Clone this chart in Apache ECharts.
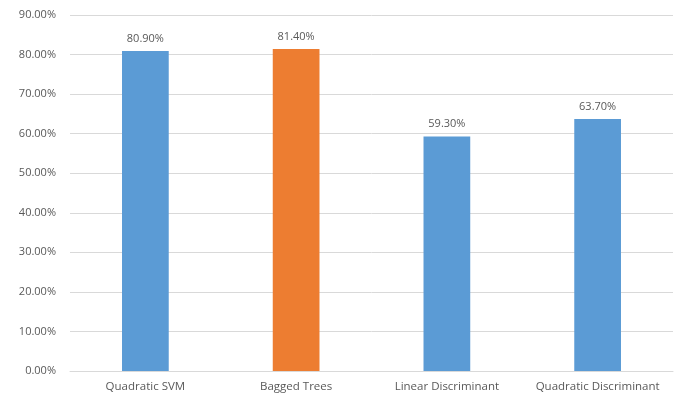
<!DOCTYPE html>
<html>
<head>
<meta charset="utf-8">
<script src="https://cdn.jsdelivr.net/npm/echarts@6/dist/echarts.min.js"></script>
<style>
html, body { margin: 0; padding: 0; background: #fff; }
#chart { width: 688px; height: 396px; }
</style>
</head>
<body>
<div id="chart"></div>
<script>
// Classifier accuracy (percent)
const categories = ['Quadratic SVM', 'Bagged Trees', 'Linear Discriminant', 'Quadratic Discriminant'];
const accuracy = [80.9, 81.4, 59.3, 63.7];
const highlightIndex = 1;

const blue = '#5B9BD5';
const orange = '#ED7D31';
const textColor = '#595959';
const fontFamily = '"Open Sans", "Noto Sans", sans-serif';

const chart = echarts.init(document.getElementById('chart'));
chart.setOption({
  animation: false,
  textStyle: { fontFamily: fontFamily },
  grid: { left: 70, right: 15, top: 15, bottom: 25 },
  xAxis: {
    type: 'category',
    data: categories,
    axisLine: { lineStyle: { color: '#D9D9D9' } },
    axisTick: { show: false },
    axisLabel: { interval: 0, color: textColor, fontSize: 11.5, margin: 10, fontFamily: fontFamily }
  },
  yAxis: {
    type: 'value',
    min: 0,
    max: 90,
    interval: 10,
    axisLine: { show: false },
    axisTick: { show: false },
    splitLine: { lineStyle: { color: '#D9D9D9' } },
    axisLabel: {
      color: textColor,
      fontSize: 11,
      margin: 14,
      fontFamily: fontFamily,
      formatter: v => v.toFixed(2) + '%'
    }
  },
  series: [{
    type: 'bar',
    barWidth: '31%',
    data: accuracy.map((v, i) => ({
      value: v,
      itemStyle: { color: i === highlightIndex ? orange : blue }
    })),
    label: {
      show: true,
      position: 'top',
      distance: 7,
      color: textColor,
      fontSize: 11,
      fontFamily: fontFamily,
      formatter: p => p.value.toFixed(2) + '%'
    }
  }]
});
</script>
</body>
</html>
